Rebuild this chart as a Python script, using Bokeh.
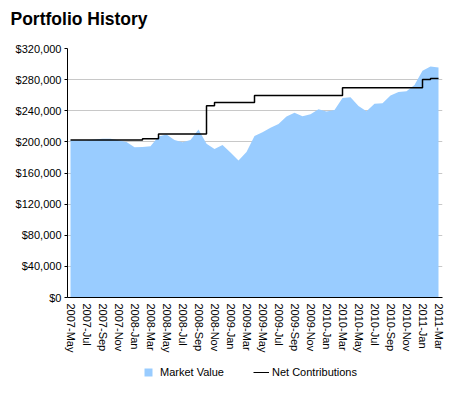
from bokeh.plotting import figure
from bokeh.layouts import column
from bokeh.models import (ColumnDataSource, FixedTicker, NumeralTickFormatter,
                          Legend, LegendItem, Range1d)
from bokeh.embed import file_html
from bokeh.resources import INLINE

tick_labels = ["2007-May", "2007-Jul", "2007-Sep", "2007-Nov", "2008-Jan", "2008-Mar",
               "2008-May", "2008-Jul", "2008-Sep", "2008-Nov", "2009-Jan", "2009-Mar",
               "2009-May", "2009-Jul", "2009-Sep", "2009-Nov", "2010-Jan", "2010-Mar",
               "2010-May", "2010-Jul", "2010-Sep", "2010-Nov", "2011-Jan", "2011-Mar"]

# monthly values, May 2007 .. Mar 2011
market_value = [202000, 202000, 202000, 203000, 204000, 204000, 202000, 200000, 193000,
                193500, 194500, 207000, 209500, 202500, 199500, 202500, 216000, 197500,
                191000, 196000, 186500, 176000, 187000, 207500, 212500, 218000, 223000,
                232500, 237500, 233000, 235500, 242000, 239000, 241000, 256500, 257500,
                246000, 239500, 249000, 249500, 259500, 264000, 265000, 273000, 291500,
                297000, 295500]

net_contributions = [202500, 202500, 202500, 202500, 202500, 202500, 202500, 202500, 202500,
                     204000, 204000, 210000, 210000, 210000, 210000, 210000, 210000, 246500,
                     250500, 250500, 250500, 250500, 250500, 259500, 259500, 259500, 259500,
                     259500, 259500, 259500, 259500, 259500, 259500, 259500, 269700, 269700,
                     269700, 269700, 269700, 269700, 269700, 269700, 269700, 269700, 280200,
                     281300, 281300]

y_ticks = [0, 40000, 80000, 120000, 160000, 200000, 240000, 280000, 320000]

series_names = ["Market Value", "Net Contributions"]
chart_title = "Portfolio History"

AREA_COLOR = "#99ccff"
FONT = "Liberation Sans"
W = 453

x = list(range(len(market_value)))
src = ColumnDataSource(dict(x=x, mv=market_value, nc=net_contributions))

# ---- title strip ----
p0 = figure(width=W, height=40, output_backend="svg", toolbar_location=None,
            x_axis_location=None, y_axis_location=None,
            min_border_left=67, min_border_right=11, min_border_top=28, min_border_bottom=0)
p0.outline_line_color = None
p0.grid.visible = False
p0.title.text = chart_title
p0.title.text_font = FONT
p0.title.text_font_size = "17.5px"
p0.title.text_font_style = "bold"
p0.title.text_color = "#000000"
p0.title.align = "left"
p0.title.vertical_align = "bottom"
p0.title.offset = -57
p0.title.standoff = 0

# ---- main chart ----
p = figure(width=W, height=315, output_backend="svg", toolbar_location=None,
           x_range=Range1d(-0.375, 46.5), y_range=Range1d(0, 320000),
           min_border_left=67, min_border_right=11, min_border_top=8, min_border_bottom=58)

area = p.varea(x="x", y1=0, y2="mv", source=src, fill_color=AREA_COLOR)
line = p.step(x="x", y="nc", source=src, mode="after", line_color="black", line_width=1.5)

p.outline_line_color = None
p.xgrid.visible = False
p.ygrid.grid_line_color = "#c8c8c8"
p.ygrid.grid_line_width = 1

p.yaxis.ticker = FixedTicker(ticks=y_ticks)
p.yaxis.formatter = NumeralTickFormatter(format="$0,0")
p.yaxis.major_tick_in = 0
p.yaxis.major_tick_out = 3
p.yaxis.minor_tick_out = 0
p.yaxis.minor_tick_in = 0
p.yaxis.major_label_standoff = 3
p.yaxis.axis_line_color = "black"
p.yaxis.major_tick_line_color = "black"

tick_pos = [2 * i for i in range(len(tick_labels))]
p.xaxis.ticker = FixedTicker(ticks=tick_pos)
p.xaxis.major_label_overrides = {t: lab for t, lab in zip(tick_pos, tick_labels)}
p.xaxis.major_label_orientation = "vertical"
p.xaxis.major_tick_in = 0
p.xaxis.major_tick_out = 0
p.xaxis.minor_tick_out = 0
p.xaxis.minor_tick_in = 0
p.xaxis.major_label_standoff = 6
p.xaxis.axis_line_color = "black"

for ax in (p.xaxis, p.yaxis):
    ax.major_label_text_font = FONT
    ax.major_label_text_font_size = "11px"
    ax.major_label_text_color = "#000000"

# ---- legend strip ----
p2 = figure(width=W, height=30, output_backend="svg", toolbar_location=None,
            x_axis_location=None, y_axis_location=None,
            x_range=Range1d(-200, -199), y_range=Range1d(0, 1),
            min_border_left=67, min_border_right=11, min_border_top=0, min_border_bottom=0)
p2.outline_line_color = None
p2.grid.visible = False
lg_area = p2.varea(x="x", y1=0, y2="mv", source=src, fill_color=AREA_COLOR)
lg_line = p2.line(x="x", y="nc", source=src, line_color="black", line_width=1)

common = dict(orientation="horizontal", border_line_color=None, background_fill_alpha=0,
              padding=0, margin=0, spacing=0, label_height=12,
              label_text_font=FONT, label_text_font_size="11px",
              label_text_color="#000000")
leg1 = Legend(items=[LegendItem(label=series_names[0], renderers=[lg_area])],
              location=(76, 7), glyph_width=10, glyph_height=10, label_standoff=7, **common)
leg2 = Legend(items=[LegendItem(label=series_names[1], renderers=[lg_line])],
              location=(186, 7), glyph_width=16, glyph_height=10, label_standoff=3, **common)
p2.add_layout(leg1)
p2.add_layout(leg2)

layout = column(p0, p, p2, spacing=0)
open("out.html", "w").write(file_html(layout, INLINE))
